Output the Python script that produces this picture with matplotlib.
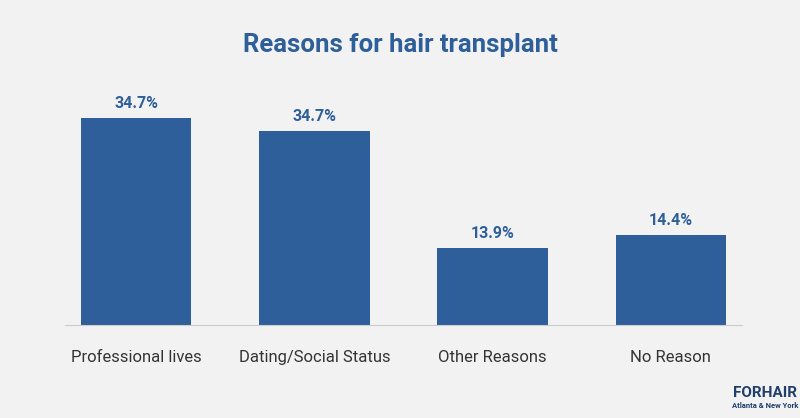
import matplotlib.pyplot as plt

categories = ['Professional lives', 'Dating/Social Status', 'Other Reasons', 'No Reason']
heights = [37.0, 34.7, 13.8, 16.1]   # bar heights as drawn in the picture
labels = ['34.7%', '34.7%', '13.9%', '14.4%']

blue = '#2e5f9a'
bg = '#f2f2f2'

fig = plt.figure(figsize=(8, 4.18), dpi=100, facecolor=bg)
ax = fig.add_axes([65/800, 1-325/418, 677/800, 245/418], facecolor=bg)

x = range(len(categories))
bars = ax.bar(x, heights, width=0.62, color=blue)
for b, lab in zip(bars, labels):
    ax.text(b.get_x()+b.get_width()/2, b.get_height()+1.2, lab, ha='center', va='bottom',
            color=blue, fontsize=11.5, fontweight='bold', family='Roboto')

ax.set_xlim(-0.40, 3.40)
ax.set_ylim(0, 43.8)
ax.set_yticks([])
ax.set_xticks(list(x))
ax.set_xticklabels(categories, fontsize=12, color='#333333', family='Roboto')
ax.tick_params(axis='x', length=0, pad=18)
for s in ['top', 'right', 'left']:
    ax.spines[s].set_visible(False)
ax.spines['bottom'].set_color('#cccccc')

fig.text(0.5, 1-45/418, 'Reasons for hair transplant', ha='center', va='center',
         color=blue, fontsize=18.5, fontweight='bold', family='Roboto')
fig.text(765/800, 1-393/418, 'FORHAIR', ha='center', va='center', color='#1f3f6e',
         fontsize=11, fontweight='bold', family='Roboto')
fig.text(765/800, 1-406/418, 'Atlanta & New York', ha='center', va='center', color='#1f3f6e',
         fontsize=5.5, fontweight='bold', family='Roboto')

fig.savefig('out.png', dpi=100, facecolor=bg)
